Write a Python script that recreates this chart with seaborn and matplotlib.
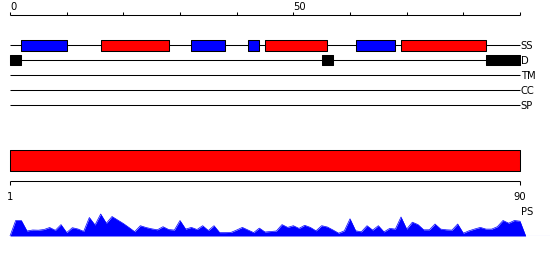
import matplotlib
matplotlib.use("Agg")
import matplotlib.pyplot as plt
import seaborn as sns
import numpy as np
import pandas as pd

# ---------------- data ----------------
seq_length = 90
ruler_ticks = [0, 10, 20, 30, 40, 50, 60, 70, 80, 90]
ruler_labels = {0: "0", 50: "50"}

track_names = ["SS", "D", "TM", "CC", "SP"]

ss_starts = [2, 16, 32, 42, 45, 61, 69]
ss_ends = [10, 28, 38, 44, 56, 68, 84]
ss_types = ["E", "H", "E", "E", "H", "E", "H"]

d_starts = [0, 55, 84]
d_ends = [2, 57, 90]

domain_start = 0
domain_end = 90
domain_labels = ["1", "90"]

ps_values = [15.5, 15.5, 5, 6, 5.8, 6.5, 8.5, 5.7, 11.4, 3.4,
             8.3, 7, 4.6, 18.5, 11, 22, 12.7, 19.5, 16, 12.5,
             8.5, 4.3, 10.3, 8.5, 7.2, 6.2, 9.3, 6.5, 5.9, 15.5,
             6.9, 8.6, 6.5, 10.3, 5.5, 10.3, 3.4, 3.4, 3.6, 6,
             8.6, 6, 3.4, 7.9, 4, 4.5, 5, 11.4, 8.6, 10.3,
             7.6, 10.7, 8.6, 5.2, 10.3, 9, 6, 2.8, 5.2, 17.2,
             5.2, 4.2, 10.3, 5.9, 10.3, 4.1, 7.6, 6.9, 19, 6.9,
             13.8, 11.4, 6.2, 6.2, 12, 6.9, 6.2, 5.9, 12, 2.8,
             5.2, 7, 8.6, 6.9, 6.9, 9.3, 15.5, 12.8, 15.5, 14.8]

# ---------------- style ----------------
sns.set_theme(style="white")
plt.rcParams['font.family'] = ['DejaVu Sans']
plt.rcParams['text.color'] = 'black'

W, H = 550, 260
fig = plt.figure(figsize=(W / 100, H / 100), dpi=100)

px_per_unit = 510 / 90.0
xlim = (-10 / px_per_unit, (W - 10) / px_per_unit)

ax = fig.add_axes([0, 0, 1, 1])
ax.set_xlim(*xlim)
ax.set_ylim(H, 0)
ax.axis("off")

lw = 0.75
fs = 7.2
colors = {"E": "#0000FF", "H": "#FF0000"}

# ruler
ax.hlines(15, 0, seq_length, color="black", lw=lw)
ax.vlines(ruler_ticks, 12, 15, color="black", lw=lw)
for t, lab in ruler_labels.items():
    ax.text(t, 10.5, lab, ha="left", va="baseline", fontsize=fs, color="black")

# tracks
track_y = {name: 45 + 15 * i for i, name in enumerate(track_names)}
for name, y in track_y.items():
    ax.hlines(y, 0, seq_length, color="black", lw=lw, zorder=1)
    ax.text(seq_length + 0.15, y, name, ha="left", va="center_baseline",
            fontsize=fs, color="black")

ss_df = pd.DataFrame({"start": ss_starts, "end": ss_ends, "type": ss_types})
for _, r in ss_df.iterrows():
    ax.broken_barh([(r["start"], r["end"] - r["start"])], (track_y["SS"] - 5.5, 11),
                   facecolors=colors[r["type"]], edgecolors="black", lw=lw, zorder=2)

for s, e in zip(d_starts, d_ends):
    ax.broken_barh([(s, e - s)], (track_y["D"] - 5, 10),
                   facecolors="black", edgecolors="black", lw=lw, zorder=2)

# domain bar
ax.broken_barh([(domain_start, domain_end - domain_start)], (150, 21),
               facecolors="#FF0000", edgecolors="black", lw=lw, zorder=2)
ax.hlines(181, domain_start, domain_end, color="black", lw=lw)
ax.vlines([domain_start, domain_end], 181, 185, color="black", lw=lw)
ax.text(domain_start, 200, domain_labels[0], ha="center", va="baseline",
        fontsize=fs, color="black")
ax.text(domain_end, 200, domain_labels[1], ha="center", va="baseline",
        fontsize=fs, color="black")
ax.text(seq_length + 0.15, 215, "PS", ha="left", va="baseline",
        fontsize=fs, color="black")

# PS profile area
ax2 = fig.add_axes([0, (H - 236) / H, 1, 30 / H])
ax2.set_xlim(*xlim)
ax2.set_ylim(0, 30)
ax2.axis("off")
ax2.patch.set_alpha(0)

pos = np.arange(0, len(ps_values) + 2)
vals = np.concatenate([[0], ps_values, [0]])
ps_df = pd.DataFrame({"pos": pos, "val": vals})
ax2.fill_between(ps_df["pos"], 0, ps_df["val"], color="#0000FF", lw=0)
sns.lineplot(data=ps_df, x="pos", y="val", ax=ax2, color="#0000FF", lw=0.5)
ax2.hlines(0, 0, xlim[1], color="#0000FF", lw=lw)
ax2.set_xlim(*xlim)
ax2.set_ylim(0, 30)

fig.savefig("out.png", dpi=100)
